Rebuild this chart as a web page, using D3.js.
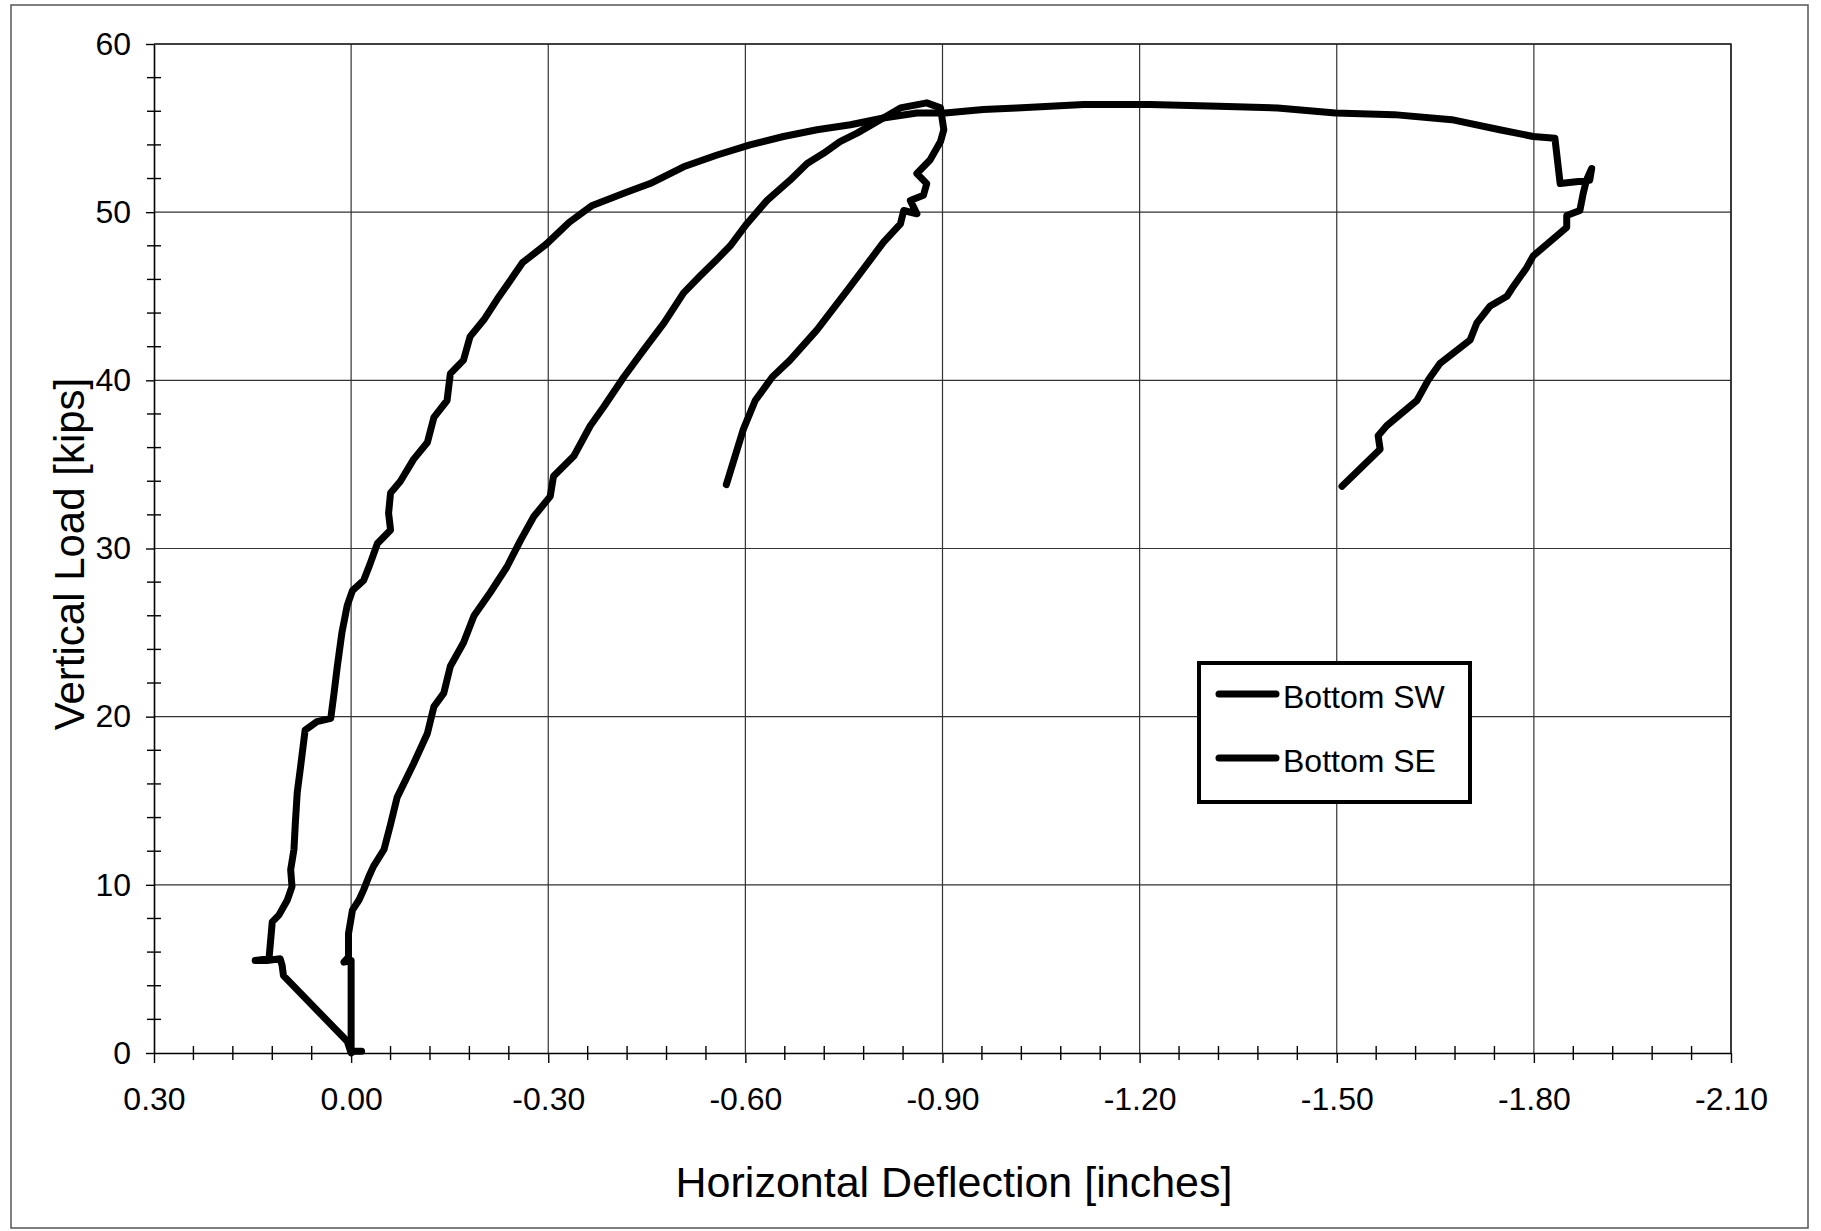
<!DOCTYPE html>
<html>
<head>
<meta charset="utf-8">
<script src="https://d3js.org/d3.v7.min.js"></script>
<style>
  body { margin: 0; background: #fff; }
  svg { display: block; }
</style>
</head>
<body>
<script>
'use strict';

// horizontal deflection [inches] and vertical load [kips]
const swDeflection = [0.000, 0.006, 0.103, 0.105, 0.108, 0.128, 0.146, 0.125, 0.120, 0.110,
  0.097, 0.090, 0.092, 0.087, 0.085, 0.082, 0.077, 0.070, 0.052, 0.031,
  0.026, 0.021, 0.014, 0.006, -0.002, -0.019, -0.029, -0.040, -0.060, -0.057,
  -0.060, -0.075, -0.095, -0.116, -0.126, -0.146, -0.151, -0.171, -0.181, -0.202,
  -0.222, -0.261, -0.297, -0.332, -0.367, -0.420, -0.455, -0.506, -0.557, -0.607,
  -0.658, -0.709, -0.760, -0.810, -0.861, -0.904, -0.962, -1.013, -1.064, -1.115,
  -1.216, -1.320, -1.410, -1.498, -1.587, -1.675, -1.748, -1.799, -1.832, -1.840,
  -1.885, -1.888, -1.880, -1.875, -1.870, -1.850, -1.850, -1.799, -1.789, -1.769,
  -1.759, -1.733, -1.713, -1.703, -1.657, -1.639, -1.622, -1.576, -1.563, -1.566,
  -1.508];
const swLoad = [0.0, 0.7, 4.6, 5.2, 5.6, 5.5, 5.5, 5.6, 7.8, 8.2,
  9.1, 9.9, 10.9, 12.1, 13.6, 15.5, 17.0, 19.2, 19.7, 19.9,
  21.4, 23.0, 25.0, 26.6, 27.5, 28.1, 29.1, 30.3, 31.1, 32.1,
  33.3, 34.0, 35.3, 36.3, 37.8, 38.8, 40.4, 41.2, 42.6, 43.6,
  44.8, 47.0, 48.1, 49.4, 50.4, 51.2, 51.7, 52.7, 53.4, 54.0,
  54.5, 54.9, 55.2, 55.6, 55.9, 55.9, 56.1, 56.2, 56.3, 56.4,
  56.4, 56.3, 56.2, 55.9, 55.8, 55.5, 54.9, 54.5, 54.4, 51.7,
  51.9, 52.6, 51.9, 51.1, 50.1, 49.8, 49.1, 47.4, 46.7, 45.6,
  45.0, 44.4, 43.4, 42.4, 41.0, 40.0, 38.8, 37.3, 36.7, 35.9,
  33.7];

const seDeflection = [-0.016, 0.000, 0.000, 0.011, 0.004, 0.004, -0.002, -0.012, -0.019, -0.027,
  -0.034, -0.050, -0.060, -0.070, -0.095, -0.116, -0.126, -0.141, -0.151, -0.171,
  -0.187, -0.212, -0.237, -0.258, -0.278, -0.303, -0.308, -0.339, -0.364, -0.384,
  -0.415, -0.445, -0.476, -0.506, -0.531, -0.557, -0.577, -0.602, -0.633, -0.668,
  -0.694, -0.719, -0.744, -0.770, -0.810, -0.836, -0.876, -0.897, -0.902, -0.897,
  -0.881, -0.861, -0.876, -0.871, -0.851, -0.861, -0.841, -0.836, -0.810, -0.760,
  -0.709, -0.668, -0.641, -0.615, -0.597, -0.571];
const seLoad = [0.1, 0.1, 5.5, 5.4, 5.7, 7.1, 8.5, 9.1, 9.7, 10.5,
  11.1, 12.1, 13.6, 15.2, 17.2, 19.0, 20.6, 21.4, 23.0, 24.4,
  26.0, 27.4, 28.9, 30.5, 31.9, 33.1, 34.3, 35.5, 37.3, 38.4,
  40.2, 41.8, 43.4, 45.2, 46.2, 47.2, 48.0, 49.3, 50.7, 51.9,
  52.9, 53.5, 54.2, 54.7, 55.6, 56.2, 56.5, 56.2, 54.9, 54.2,
  53.1, 52.3, 51.7, 51.0, 50.7, 49.9, 50.1, 49.3, 48.2, 45.6,
  43.0, 41.2, 40.2, 38.8, 37.1, 33.8];

const seriesNames = ["Bottom SW", "Bottom SE"];
const xTickValues = [0.30, 0.00, -0.30, -0.60, -0.90, -1.20, -1.50, -1.80, -2.10];
const yTickValues = [0, 10, 20, 30, 40, 50, 60];

(function() {

  let svgContainer = ""; // keep SVG reference in scope
  const FONT = '"Liberation Sans", Arial, sans-serif';
  const plot = { left: 154, right: 1731, top: 44, bottom: 1053 };

  window.onload = function() {
    svgContainer = d3.select('body')
      .append('svg')
      .attr('width', 1821)
      .attr('height', 1231);

    // outer chart frame
    svgContainer.append('rect')
      .attr('x', 11)
      .attr('y', 5)
      .attr('width', 1797)
      .attr('height', 1223)
      .attr('fill', 'none')
      .attr('stroke', '#555')
      .attr('stroke-width', 1.5);

    let map = drawTicks();
    plotData(map);
    makeLegend();
    makeLabels();
  }

  // draw grid, axes, ticks and return scales
  function drawTicks() {
    let xScale = d3.scaleLinear()
      .domain([0.30, -2.10])
      .range([plot.left, plot.right]);

    let yScale = d3.scaleLinear()
      .domain([0, 60])
      .range([plot.bottom, plot.top]);

    // gridlines
    let grid = svgContainer.append('g')
      .attr('stroke', '#333')
      .attr('stroke-width', 1.2);

    grid.selectAll('.vgrid')
      .data(xTickValues.slice(1))
      .enter()
      .append('line')
        .attr('x1', (d) => xScale(d))
        .attr('x2', (d) => xScale(d))
        .attr('y1', plot.top)
        .attr('y2', plot.bottom);

    grid.selectAll('.hgrid')
      .data(yTickValues.slice(1))
      .enter()
      .append('line')
        .attr('x1', plot.left)
        .attr('x2', plot.right)
        .attr('y1', (d) => yScale(d))
        .attr('y2', (d) => yScale(d));

    // x axis at the bottom
    let xAxis = d3.axisBottom(xScale)
      .tickValues(xTickValues)
      .tickSize(10)
      .tickSizeOuter(0)
      .tickPadding(24)
      .tickFormat((d) => d.toFixed(2));

    let gx = svgContainer.append('g')
      .attr('transform', 'translate(0,' + plot.bottom + ')')
      .call(xAxis);
    gx.select('.domain').attr('stroke', '#000').attr('stroke-width', 1.6);
    gx.selectAll('.tick line').attr('stroke', '#000').attr('stroke-width', 1.4);
    gx.selectAll('text')
      .style('font-family', FONT)
      .style('font-size', '32px')
      .attr('fill', '#000');

    // y axis at the left
    let yAxis = d3.axisLeft(yScale)
      .tickValues(yTickValues)
      .tickSize(8)
      .tickSizeOuter(0)
      .tickPadding(15);

    let gy = svgContainer.append('g')
      .attr('transform', 'translate(' + plot.left + ',0)')
      .call(yAxis);
    gy.select('.domain').attr('stroke', '#000').attr('stroke-width', 1.6);
    gy.selectAll('.tick line').attr('stroke', '#000').attr('stroke-width', 1.4);
    gy.selectAll('text')
      .style('font-family', FONT)
      .style('font-size', '32px')
      .attr('fill', '#000');

    // minor ticks cross the axis lines
    let xMinor = d3.range(0, 41).filter((i) => i % 5 != 0).map((i) => 0.30 - i * 0.06);
    let yMinor = d3.range(0, 31).filter((i) => i % 5 != 0).map((i) => i * 2);

    svgContainer.selectAll('.xminor')
      .data(xMinor)
      .enter()
      .append('line')
        .attr('x1', (d) => xScale(d))
        .attr('x2', (d) => xScale(d))
        .attr('y1', plot.bottom - 7)
        .attr('y2', plot.bottom + 7)
        .attr('stroke', '#000')
        .attr('stroke-width', 1.4);

    svgContainer.selectAll('.yminor')
      .data(yMinor)
      .enter()
      .append('line')
        .attr('x1', plot.left - 7)
        .attr('x2', plot.left + 7)
        .attr('y1', (d) => yScale(d))
        .attr('y2', (d) => yScale(d))
        .attr('stroke', '#000')
        .attr('stroke-width', 1.4);

    // plot area frame (top and right)
    svgContainer.append('path')
      .attr('d', 'M' + plot.left + ',' + plot.top + 'H' + plot.right + 'V' + plot.bottom)
      .attr('fill', 'none')
      .attr('stroke', '#222')
      .attr('stroke-width', 1.5);

    return { xScale: xScale, yScale: yScale };
  }

  // draw both load-deflection curves
  function plotData(map) {
    let xScale = map.xScale;
    let yScale = map.yScale;

    let series = [
      swDeflection.map((d, i) => [d, swLoad[i]]),
      seDeflection.map((d, i) => [d, seLoad[i]])
    ];

    let line = d3.line()
      .x((d) => xScale(d[0]))
      .y((d) => yScale(d[1]));

    svgContainer.selectAll('.curve')
      .data(series)
      .enter()
      .append('path')
        .attr('d', line)
        .attr('fill', 'none')
        .attr('stroke', '#000')
        .attr('stroke-width', 7)
        .attr('stroke-linejoin', 'round')
        .attr('stroke-linecap', 'round');
  }

  // legend box in the lower right of the plot
  function makeLegend() {
    let legend = svgContainer.append('g')
      .attr('class', 'legend');

    legend.append('rect')
      .attr('x', 1199)
      .attr('y', 663)
      .attr('width', 271)
      .attr('height', 139)
      .attr('fill', '#fff')
      .attr('stroke', '#000')
      .attr('stroke-width', 4);

    seriesNames.forEach((name, i) => {
      let y = 694 + i * 64;
      legend.append('line')
        .attr('x1', 1219)
        .attr('x2', 1276)
        .attr('y1', y)
        .attr('y2', y)
        .attr('stroke', '#000')
        .attr('stroke-width', 7)
        .attr('stroke-linecap', 'round');

      legend.append('text')
        .attr('x', 1283)
        .attr('y', y + 14)
        .style('font-family', FONT)
        .style('font-size', '32px')
        .text(name);
    });
  }

  // axis titles
  function makeLabels() {
    svgContainer.append('text')
      .attr('x', 954)
      .attr('y', 1197)
      .attr('text-anchor', 'middle')
      .style('font-family', FONT)
      .style('font-size', '43px')
      .text('Horizontal Deflection [inches]');

    svgContainer.append('text')
      .attr('transform', 'translate(84, 554)rotate(-90)')
      .attr('text-anchor', 'middle')
      .style('font-family', FONT)
      .style('font-size', '42px')
      .text('Vertical Load [kips]');
  }

})();
</script>
</body>
</html>
